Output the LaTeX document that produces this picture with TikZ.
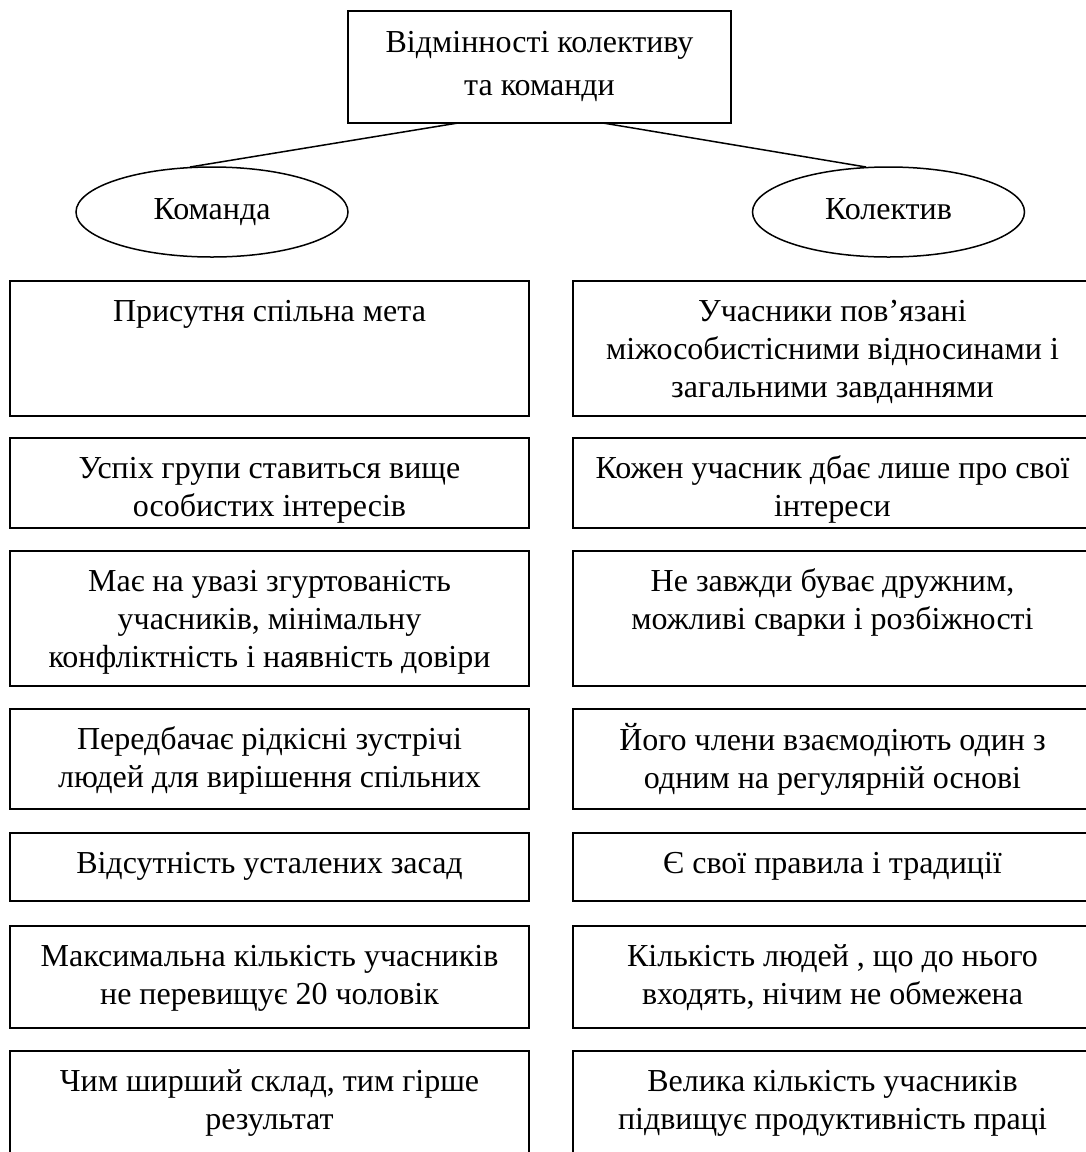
\documentclass[tikz,border=0pt]{standalone}
\usepackage{fontspec}
\setmainfont{Liberation Serif}
\usetikzlibrary{shapes.geometric}
\begin{document}
\begin{tikzpicture}[x=1pt,y=-1pt,
  box/.style={draw,line width=2pt,minimum width=519pt,inner sep=0pt,outer sep=0pt,anchor=north west},
  txt/.style={anchor=north,align=center,inner sep=0pt,font=\fontsize{32}{38}\selectfont},
  oval/.style={draw,ellipse,line width=1.5pt,minimum width=272pt,minimum height=90pt,inner sep=0pt,outer sep=0pt,text height=22pt,text depth=8pt,font=\fontsize{32}{38}\selectfont},
  conn/.style={line width=1.5pt}]
\useasboundingbox (0,0) rectangle (1086,1152);
\clip (0,0) rectangle (1086,1152);
% title
\node[box,minimum width=383pt,minimum height=112pt] (top) at (348,11) {};
\node[txt,font=\fontsize{32}{43}\selectfont] (toptxt) at ([yshift=-11pt]top.north) {\strut Відмінності колективу\\та команди};
% ovals
\node[oval] (e1) at (212,212) {Команда};
\node[oval] (e2) at (888.5,212) {Колектив};
\coordinate (tl) at ([xshift=-81.5pt]top.south);
\coordinate (tr) at ([xshift=63.5pt]top.south);
\coordinate (el) at ([xshift=-22pt]e1.north);
\coordinate (er) at ([xshift=-22.5pt]e2.north);
\draw[conn] (tl) -- (el);
\draw[conn] (tr) -- (er);
% row 1
\node[box,minimum height=135pt] (l1) at (10,281) {};
\node[txt] (l1t) at ([yshift=-14pt]l1.north) {\strut Присутня спільна мета};
\node[box,minimum height=135pt] (r1) at (573,281) {};
\node[txt] (r1t) at ([yshift=-14pt]r1.north) {\strut Учасники пов’язані\\міжособистісними відносинами і\\загальними завданнями};
% row 2
\node[box,minimum height=90pt] (l2) at (10,438) {};
\node[txt] (l2t) at ([yshift=-14pt]l2.north) {\strut Успіх групи ставиться вище\\особистих інтересів};
\node[box,minimum height=90pt] (r2) at (573,438) {};
\node[txt] (r2t) at ([yshift=-14pt]r2.north) {\strut Кожен учасник дбає лише про свої\\інтереси};
% row 3
\node[box,minimum height=135pt] (l3) at (10,551) {};
\node[txt] (l3t) at ([yshift=-14pt]l3.north) {\strut Має на увазі згуртованість\\учасників, мінімальну\\конфліктність і наявність довіри};
\node[box,minimum height=135pt] (r3) at (573,551) {};
\node[txt] (r3t) at ([yshift=-14pt]r3.north) {\strut Не завжди буває дружним,\\можливі сварки і розбіжності};
% row 4
\node[box,minimum height=100pt] (l4) at (10,709) {};
\node[txt] (l4t) at ([yshift=-14pt]l4.north) {\strut Передбачає рідкісні зустрічі\\людей для вирішення спільних};
\node[box,minimum height=100pt] (r4) at (573,709) {};
\node[txt] (r4t) at ([yshift=-14pt]r4.north) {\strut Його члени взаємодіють один з\\одним на регулярній основі};
% row 5
\node[box,minimum height=68pt] (l5) at (10,833) {};
\node[txt] (l5t) at ([yshift=-14pt]l5.north) {\strut Відсутність усталених засад};
\node[box,minimum height=68pt] (r5) at (573,833) {};
\node[txt] (r5t) at ([yshift=-14pt]r5.north) {\strut Є свої правила і традиції};
% row 6
\node[box,minimum height=102pt] (l6) at (10,926) {};
\node[txt] (l6t) at ([yshift=-14pt]l6.north) {\strut Максимальна кількість учасників\\не перевищує 20 чоловік};
\node[box,minimum height=102pt] (r6) at (573,926) {};
\node[txt] (r6t) at ([yshift=-14pt]r6.north) {\strut Кількість людей , що до нього\\входять, нічим не обмежена};
% row 7
\node[box,minimum height=115pt] (l7) at (10,1051) {};
\node[txt] (l7t) at ([yshift=-14pt]l7.north) {\strut Чим ширший склад, тим гірше\\результат};
\node[box,minimum height=115pt] (r7) at (573,1051) {};
\node[txt] (r7t) at ([yshift=-14pt]r7.north) {\strut Велика кількість учасників\\підвищує продуктивність праці};
\end{tikzpicture}
\end{document}
